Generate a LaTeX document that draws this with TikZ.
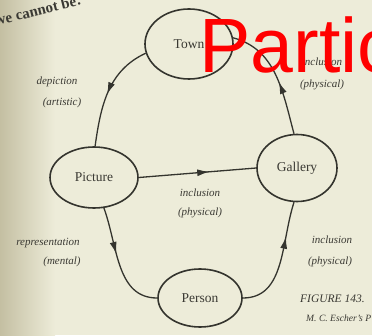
\documentclass[tikz,border=0pt]{standalone}
\usepackage{fontspec}
\setmainfont{Liberation Serif}
\newfontfamily\redsans{Liberation Sans}
\usetikzlibrary{arrows.meta,decorations.markings,shapes.geometric}
\definecolor{paper}{HTML}{EDECD9}
\definecolor{paperdark}{HTML}{C4BFA2}
\definecolor{ink}{HTML}{34342E}
\definecolor{inktext}{HTML}{3A3933}
\tikzset{
  bubble/.style={ellipse, draw=ink, line width=1.6pt, inner sep=0pt, font=\fontsize{13.5}{15}\selectfont, text=inktext},
  conn/.style={draw=ink, line width=1.3pt},
  midarrow/.style={postaction={decorate}, decoration={markings, mark=at position #1 with {\arrow{Latex[length=12pt,width=7pt]}}}},
  lbl/.style={font=\fontsize{11}{12}\selectfont\itshape, text=inktext, inner sep=0pt},
}
\begin{document}
\begin{tikzpicture}[x=1pt,y=1pt]
\useasboundingbox (0,0) rectangle (372,335);
\fill[paper] (0,0) rectangle (372,335);
\shade[left color=paperdark, right color=paper] (0,0) rectangle (55,335);
% top running text
\node[anchor=base west, rotate=14, font=\fontsize{15}{17}\selectfont\bfseries, text=inktext, inner sep=0pt] (toptext) at (-4,309) {we cannot be:};
% nodes
\node[bubble, minimum width=88pt, minimum height=70pt] (town) at (189,291) {Town};
\node[bubble, minimum width=88pt, minimum height=61pt] (picture) at (94,157.5) {Picture};
\node[bubble, minimum width=80pt, minimum height=67pt] (gallery) at (297,167) {Gallery};
\node[bubble, minimum width=84pt, minimum height=58pt] (person) at (200,37) {Person};
% connectors
\draw[conn, midarrow=0.52] (town.192) to[out=205, in=82] (picture.88);
\draw[conn, midarrow=0.45] (gallery.95) to[out=105, in=-15] (town.8);
\draw[conn, midarrow=0.6] (picture.east) -- (gallery.west);
\draw[conn, midarrow=0.42] (picture.-72) to[out=-70, in=180] (person.west);
\draw[conn, midarrow=0.7] (person.east) to[out=0, in=252] (gallery.-95);
% labels
\node[lbl] (l1a) at (57,253) {depiction};
\node[lbl] (l1b) at (62,232) {(artistic)};
\node[lbl] (l2a) at (322,273) {inclusion};
\node[lbl] (l2b) at (322,250) {(physical)};
\node[lbl] (l3a) at (200,142) {inclusion};
\node[lbl] (l3b) at (200,122) {(physical)};
\node[lbl] (l4a) at (48,92) {representation};
\node[lbl] (l4b) at (62,73) {(mental)};
\node[lbl] (l5a) at (332,95) {inclusion};
\node[lbl] (l5b) at (330,73) {(physical)};
\node[lbl, anchor=west, font=\fontsize{11.5}{13}\selectfont\itshape] (fig) at (300,36) {FIGURE 143.};
\node[lbl, anchor=west, font=\fontsize{9.6}{11}\selectfont\itshape] (cap) at (306,17) {M. C. Escher's P};
% red overlay
\node[anchor=base west, inner sep=0pt, text=red, font=\redsans\fontsize{77}{80}\selectfont] (partic) at (199,262) {Partic};
\end{tikzpicture}
\end{document}
